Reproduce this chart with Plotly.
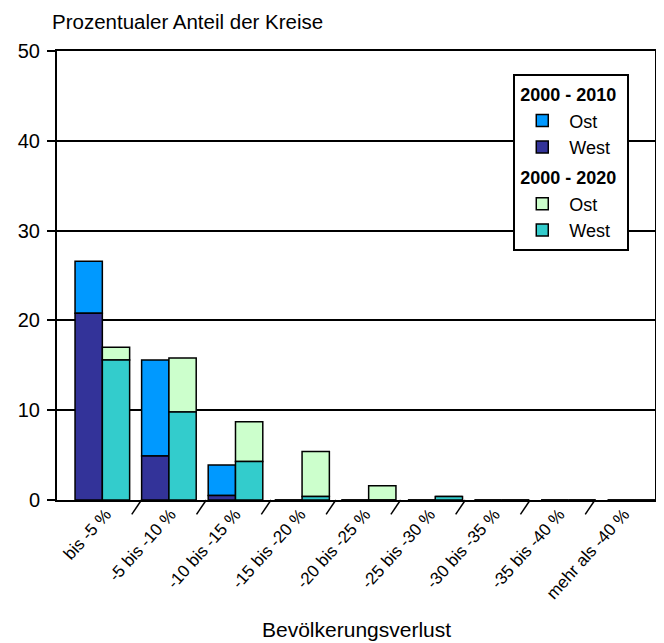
import plotly.graph_objects as go

categories = ["bis -5 %", "-5 bis -10 %", "-10 bis -15 %", "-15 bis -20 %", "-20 bis -25 %",
              "-25 bis -30 %", "-30 bis -35 %", "-35 bis -40 %", "mehr als -40 %"]
west_2010 = [20.8, 4.9, 0.5, 0, 0, 0, 0, 0, 0]
ost_2010 = [5.8, 10.7, 3.4, 0, 0, 0, 0, 0, 0]
west_2020 = [15.6, 9.8, 4.3, 0.4, 0, 0.4, 0, 0, 0]
ost_2020 = [1.4, 6.0, 4.4, 5.0, 1.6, 0, 0, 0, 0]
y_ticks = [0, 10, 20, 30, 40, 50]

FONT = "Liberation Sans, Arial, sans-serif"
idx = list(range(len(categories)))
line = dict(color="black", width=1.5)
BW = 0.41

fig = go.Figure()
fig.add_trace(go.Bar(x=idx, y=ost_2010, base=west_2010, name="Ost", offset=-BW, width=BW,
                     marker=dict(color="#0099FF", line=line),
                     legendgroup="g2010", legendgrouptitle=dict(text="<b>2000 - 2010</b>")))
fig.add_trace(go.Bar(x=idx, y=west_2010, name="West", offset=-BW, width=BW,
                     marker=dict(color="#333399", line=line), legendgroup="g2010"))
fig.add_trace(go.Bar(x=idx, y=ost_2020, base=west_2020, name="Ost", offset=0, width=BW,
                     marker=dict(color="#CCFFCC", line=line),
                     legendgroup="g2020", legendgrouptitle=dict(text="<b>2000 - 2020</b>")))
fig.add_trace(go.Bar(x=idx, y=west_2020, name="West", offset=0, width=BW,
                     marker=dict(color="#33CCCC", line=line), legendgroup="g2020"))
# dummy trace to carry the category label axis
fig.add_trace(go.Scatter(x=idx, y=[None] * len(idx), xaxis="x2", showlegend=False,
                         hoverinfo="skip", mode="markers"))

shapes = []
for i in range(len(categories) - 1):
    shapes.append(dict(type="line", xref="x2", yref="paper", x0=i + 0.55, y0=0,
                       x1=i + 0.55 - 0.15, y1=-0.032, line=dict(color="black", width=1.5)))

# page body has an 8px margin, so the figure is sized/offset to compensate
fig.update_layout(
    width=656, height=635,
    margin=dict(l=49, r=7, t=43, b=143),
    paper_bgcolor="white", plot_bgcolor="white",
    barmode="overlay",
    font=dict(family=FONT, size=18, color="black"),
    showlegend=True,
    xaxis=dict(range=[-0.681, 8.301], showticklabels=False, showline=True, linecolor="black",
               linewidth=2, mirror=True, ticks="", showgrid=False, zeroline=False),
    xaxis2=dict(overlaying="x", anchor="y", side="bottom", range=[-0.754, 8.477],
                tickmode="array", tickvals=idx, ticktext=categories, tickangle=-48,
                showline=False, showgrid=False, zeroline=False, ticks="",
                tickfont=dict(size=17)),
    yaxis=dict(range=[0, 50], tickmode="array", tickvals=y_ticks, showgrid=True,
               gridcolor="black", gridwidth=1.5, showline=True, linecolor="black",
               linewidth=2, mirror=True, ticks="outside", ticklen=8, tickwidth=1.5,
               tickcolor="black", zeroline=False, tickfont=dict(size=20),
               ticklabelstandoff=3),
    legend=dict(x=0.763, y=0.949, xanchor="left", yanchor="top", bgcolor="white",
                bordercolor="black", borderwidth=2, font=dict(size=18),
                traceorder="grouped", tracegroupgap=4, itemwidth=44,
                grouptitlefont=dict(size=18)),
    shapes=shapes,
    annotations=[
        dict(text="Prozentualer Anteil der Kreise", xref="paper", yref="paper",
             x=-0.012, y=1.0958, xanchor="left", yanchor="top", showarrow=False,
             font=dict(size=20.5)),
        dict(text="Bevölkerungsverlust", xref="paper", yref="paper",
             x=0.5, y=-0.318, xanchor="center", yanchor="bottom", showarrow=False,
             font=dict(size=21)),
    ],
)

fig.write_html("out.html")
